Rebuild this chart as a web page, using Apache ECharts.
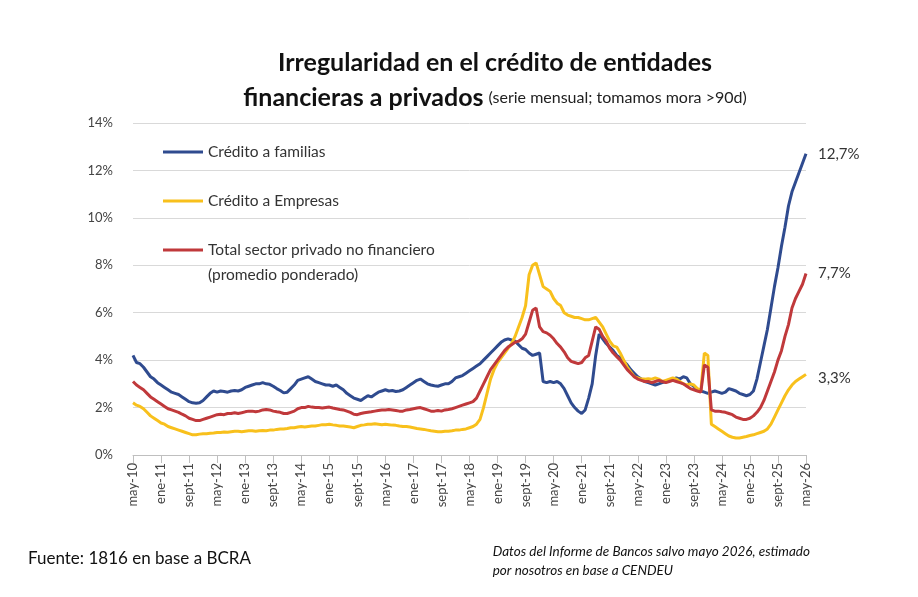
<!DOCTYPE html>
<html><head><meta charset="utf-8">
<script src="https://cdn.jsdelivr.net/npm/echarts@6/dist/echarts.min.js"></script>
<style>html,body{margin:0;padding:0;background:#fff}#c{width:918px;height:597px}</style>
</head><body><div id="c"></div>
<script>
const monthNames = ['ene','feb','mar','abr','may','jun','jul','ago','sept','oct','nov','dic'];
const categories = [];
for (let y = 10, m = 4; !(y === 26 && m === 5); ) { categories.push(monthNames[m] + '-' + y); m++; if (m === 12) { m = 0; y++; } }
const familias = [
4.2,3.9,3.85,3.7,3.5,3.3,3.2,3.05,2.95,2.85,2.75,2.65,
2.6,2.55,2.45,2.35,2.25,2.2,2.18,2.2,2.3,2.45,2.6,2.7,
2.65,2.7,2.68,2.65,2.7,2.72,2.7,2.75,2.85,2.9,2.95,3.0,
3.0,3.05,3.0,2.98,2.9,2.8,2.72,2.62,2.65,2.8,2.95,3.15,
3.2,3.25,3.3,3.2,3.1,3.05,3.0,2.95,2.95,2.9,2.95,2.85,
2.75,2.6,2.5,2.4,2.35,2.3,2.4,2.5,2.45,2.55,2.65,2.7,
2.75,2.7,2.72,2.68,2.7,2.75,2.85,2.95,3.05,3.15,3.2,3.1,
3.0,2.95,2.92,2.9,2.95,3.0,3.0,3.1,3.25,3.3,3.35,3.45,
3.55,3.65,3.75,3.85,4.0,4.15,4.3,4.45,4.6,4.75,4.85,4.9,
4.85,4.8,4.65,4.5,4.45,4.3,4.2,4.25,4.3,3.1,3.05,3.1,
3.05,3.1,3.0,2.8,2.5,2.2,2.0,1.85,1.75,1.9,2.4,3.0,
4.2,5.1,4.9,4.7,4.55,4.4,4.2,4.1,3.95,3.8,3.6,3.45,
3.3,3.2,3.1,3.05,3.0,2.95,3.0,3.05,3.1,3.15,3.2,3.25,
3.2,3.3,3.25,3.0,2.9,2.75,2.7,2.65,2.6,2.65,2.7,2.65,
2.6,2.65,2.8,2.75,2.7,2.6,2.55,2.5,2.55,2.7,3.2,3.9,
4.6,5.3,6.2,7.1,7.9,8.8,9.6,10.5,11.1,11.5,11.9,12.3,
12.7];
const empresas = [
2.2,2.1,2.05,1.95,1.8,1.65,1.55,1.45,1.35,1.3,1.2,1.15,
1.1,1.05,1.0,0.95,0.9,0.85,0.85,0.88,0.9,0.9,0.92,0.93,
0.95,0.95,0.97,0.96,0.98,1.0,1.0,0.98,1.0,1.02,1.02,1.0,
1.02,1.03,1.02,1.05,1.05,1.08,1.1,1.1,1.12,1.15,1.15,1.18,
1.2,1.18,1.2,1.22,1.22,1.25,1.28,1.28,1.3,1.27,1.25,1.22,
1.22,1.2,1.18,1.15,1.2,1.25,1.27,1.3,1.3,1.32,1.3,1.28,
1.3,1.28,1.26,1.25,1.22,1.2,1.2,1.18,1.15,1.12,1.1,1.08,
1.05,1.02,1.0,0.98,0.98,1.0,1.0,1.02,1.05,1.05,1.08,1.1,
1.15,1.2,1.3,1.5,2.0,2.6,3.2,3.6,3.9,4.1,4.3,4.5,
4.7,5.0,5.4,5.8,6.3,7.6,8.0,8.1,7.6,7.1,7.0,6.9,
6.6,6.4,6.3,6.0,5.9,5.85,5.8,5.8,5.75,5.7,5.7,5.75,
5.8,5.6,5.4,5.1,4.8,4.6,4.55,4.3,4.0,3.7,3.5,3.3,
3.25,3.2,3.2,3.22,3.2,3.25,3.2,3.1,3.15,3.2,3.25,3.2,
3.1,3.0,2.95,3.0,2.95,2.8,2.7,4.3,4.2,1.3,1.2,1.1,
1.0,0.9,0.8,0.75,0.72,0.72,0.75,0.78,0.82,0.85,0.9,0.95,
1.0,1.1,1.3,1.6,1.9,2.2,2.5,2.75,2.95,3.1,3.2,3.3,
3.4];
const total = [
3.1,2.95,2.85,2.75,2.6,2.45,2.35,2.25,2.15,2.05,1.95,1.9,
1.85,1.8,1.72,1.65,1.55,1.5,1.45,1.45,1.5,1.55,1.6,1.65,
1.7,1.72,1.7,1.75,1.75,1.78,1.75,1.78,1.82,1.85,1.85,1.82,
1.85,1.9,1.92,1.9,1.85,1.82,1.8,1.75,1.75,1.8,1.85,1.95,
2.0,2.0,2.05,2.02,2.0,2.0,1.98,2.0,2.02,1.98,1.95,1.92,
1.9,1.85,1.8,1.72,1.7,1.75,1.78,1.8,1.82,1.85,1.88,1.9,
1.9,1.92,1.9,1.88,1.85,1.85,1.9,1.92,1.95,1.98,2.0,1.95,
1.9,1.85,1.85,1.88,1.85,1.9,1.92,1.95,2.0,2.05,2.1,2.15,
2.2,2.25,2.4,2.7,3.0,3.3,3.6,3.8,4.0,4.2,4.4,4.55,
4.65,4.75,4.8,4.9,5.1,5.6,6.1,6.2,5.4,5.2,5.15,5.05,
4.9,4.7,4.55,4.35,4.1,3.95,3.9,3.85,3.9,4.1,4.2,4.8,
5.4,5.3,5.0,4.8,4.5,4.3,4.15,4.0,3.8,3.6,3.45,3.3,
3.2,3.15,3.1,3.1,3.05,3.1,3.15,3.1,3.05,3.1,3.15,3.1,
3.05,3.0,2.9,2.8,2.75,2.7,2.65,3.8,3.7,1.9,1.85,1.85,
1.82,1.8,1.75,1.7,1.6,1.55,1.5,1.5,1.55,1.65,1.8,2.0,
2.3,2.7,3.1,3.5,4.0,4.4,5.0,5.5,6.2,6.6,6.9,7.2,
7.65];
const endLabels = ['12,7%','3,3%','7,7%'];
const seriesNames = ['Crédito a familias','Crédito a Empresas','Total sector privado no financiero'];
const legendExtra = '(promedio ponderado)';
const colors = ['#2f4b8f','#f8c01c','#c0393b'];
const font = 'Lato, "Noto Sans", sans-serif';
const chart = echarts.init(document.getElementById('c'));
const data = [familias, empresas, total];
chart.setOption({
  animation:false,
  title:{left:490, textAlign:'center', top:40,
    text:'{b|Irregularidad en el crédito de entidades}\n{b|financieras a privados} {n|(serie mensual; tomamos mora >90d)}',
    textStyle:{rich:{b:{fontSize:25,fontWeight:'bold',color:'#111',fontFamily:font,lineHeight:35},n:{fontSize:16,fontWeight:'normal',color:'#222',fontFamily:font,lineHeight:35}}}},
  grid:{left:133,right:112,top:123,bottom:142},
  legend:{orient:'vertical',left:158,top:139,itemGap:33,itemWidth:40,itemHeight:3,icon:'rect',
    textStyle:{fontSize:15.5,color:'#333',fontFamily:font},
    data:seriesNames},
  xAxis:{type:'category',data:categories,boundaryGap:false,
    axisLine:{lineStyle:{color:'#bfbfbf'}},
    axisTick:{show:true,interval:7,alignWithLabel:true,length:8,lineStyle:{color:'#bfbfbf'}},
    axisLabel:{interval:7,rotate:90,color:'#444',fontSize:13,fontFamily:font,margin:8}},
  yAxis:{type:'value',min:0,max:14,interval:2,
    axisLabel:{formatter:'{value}%',color:'#444',fontSize:13,fontFamily:font,margin:20},
    splitLine:{lineStyle:{color:'#d9d9d9'}},axisLine:{show:false},axisTick:{show:false}},
  graphic:[
    {type:'text',left:208,top:267,style:{text:legendExtra,fontSize:15.5,fill:'#333',fontFamily:font}},
    {type:'text',left:28,top:550,style:{text:'Fuente: 1816 en base a BCRA',fontSize:17,fill:'#111',fontFamily:font}},
    {type:'text',right:108,top:542,style:{text:'Datos del Informe de Bancos salvo mayo 2026, estimado\npor nosotros en base a CENDEU',fontSize:13.5,fontStyle:'italic',fill:'#111',fontFamily:font,align:'right',lineHeight:19}}
  ],
  series:data.map((d,i)=>({name:seriesNames[i],type:'line',data:d,symbol:'none',
    lineStyle:{width:3,color:colors[i]},itemStyle:{color:colors[i]},
    endLabel:{show:true,formatter:endLabels[i],color:'#333',fontSize:15,fontFamily:font,distance:12,offset:[0,i===1?4:0]}}))
});
</script></body></html>
